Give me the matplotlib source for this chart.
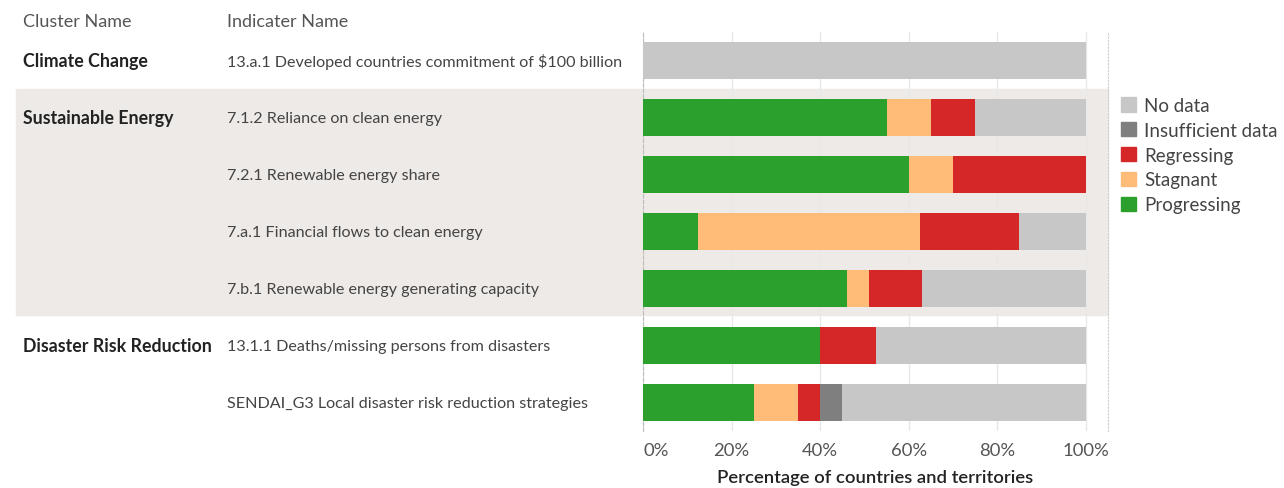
import matplotlib.pyplot as plt
import numpy as np
from matplotlib.patches import Patch, Rectangle

plt.rcParams['font.family'] = ['Lato', 'DejaVu Sans']

clusters = ["Climate Change", "Sustainable Energy", "Disaster Risk Reduction"]
cluster_rows = [0, 1, 5]
indicators = [
    "13.a.1 Developed countries commitment of $100 billion",
    "7.1.2 Reliance on clean energy",
    "7.2.1 Renewable energy share",
    "7.a.1 Financial flows to clean energy",
    "7.b.1 Renewable energy generating capacity",
    "13.1.1 Deaths/missing persons from disasters",
    "SENDAI_G3 Local disaster risk reduction strategies",
]
progressing = [0, 55, 60, 12.5, 46, 40, 25]
stagnant = [0, 10, 10, 50, 5, 0, 10]
regressing = [0, 10, 30, 22.5, 12, 12.5, 5]
insufficient = [0, 0, 0, 0, 0, 0, 5]
no_data = [100, 25, 0, 15, 37, 47.5, 55]
ticks = [0, 20, 40, 60, 80, 100]

W, H = 1284, 489
fig = plt.figure(figsize=(W / 100, H / 100), dpi=100)

# shaded band behind the Sustainable Energy group
fig.patches.append(Rectangle((16 / W, 1 - 316 / H), (1108 - 16) / W, (316 - 90) / H,
                             transform=fig.transFigure, color='#EEEAE7', zorder=-5))

ax_l, ax_r = 643, 1108
ax_t, ax_b = 33, 432
ax = fig.add_axes([ax_l / W, 1 - ax_b / H, (ax_r - ax_l) / W, (ax_b - ax_t) / H])
ax.set_facecolor('none')
ax.set_zorder(2)

y = np.arange(len(indicators))
series = [("Progressing", progressing, '#2CA02C'),
          ("Stagnant", stagnant, '#FFBB78'),
          ("Regressing", regressing, '#D62728'),
          ("Insufficient data", insufficient, '#7F7F7F'),
          ("No data", no_data, '#C7C7C7')]
left = np.zeros(len(indicators))
for name, vals, col in series:
    vals = np.array(vals, dtype=float)
    ax.barh(y, vals, left=left, height=0.65, color=col, zorder=3)
    left += vals

ax.set_xlim(0, 105)
ax.set_ylim(len(indicators) - 0.5, -0.5)
ax.set_yticks([])
ax.set_xticks(ticks)
ax.set_xticklabels([f"{t}%" for t in ticks], fontsize=13.3, color='#555555')
ax.get_xticklabels()[0].set_ha('left')
ax.tick_params(axis='x', length=0, pad=8)
ax.grid(axis='x', color='#E8E8E8', linewidth=1, zorder=1)
ax.set_xlabel("Percentage of countries and territories", fontsize=13.3,
              fontweight='semibold', color='#222222', labelpad=8)
for s in ['top', 'bottom']:
    ax.spines[s].set_visible(False)
ax.spines['left'].set_linestyle((0, (3, 2)))
ax.spines['left'].set_color('#BBBBBB')
ax.spines['right'].set_linestyle((0, (1, 2)))
ax.spines['right'].set_color('#CCCCCC')

# row labels
row_px = 62
step = 57
fig.text(23 / W, 1 - 22 / H, "Cluster Name", fontsize=13, color='#555555', va='center')
fig.text(227 / W, 1 - 22 / H, "Indicater Name", fontsize=13, color='#555555', va='center')
for i, lab in enumerate(indicators):
    fig.text(227 / W, 1 - (row_px + i * step) / H, lab, fontsize=11.6,
             color='#444444', va='center')
for c, r in zip(clusters, cluster_rows):
    fig.text(23 / W, 1 - (row_px + r * step) / H, c, fontsize=12.8,
             fontweight='bold', color='#222222', va='center')

handles = [Patch(color=col, label=name) for name, _, col in series[::-1]]
fig.legend(handles=handles, loc='upper left', bbox_to_anchor=(1104 / W, 1 - 81 / H),
           frameon=False, fontsize=13.5, handlelength=0.8, handleheight=0.8,
           handletextpad=0.45, labelspacing=0.42, labelcolor='#444444')

fig.savefig('out.png', dpi=100)
